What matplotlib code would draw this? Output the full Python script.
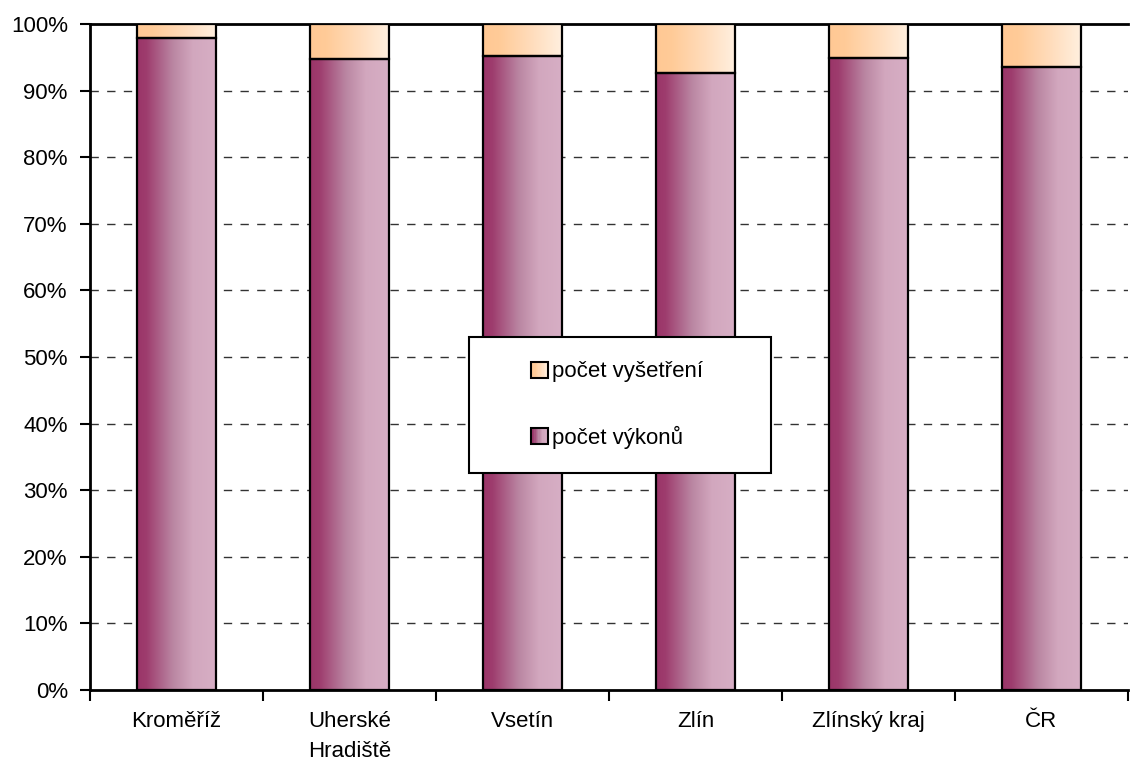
import numpy as np
import matplotlib
matplotlib.use("Agg")
import matplotlib.pyplot as plt
from matplotlib.patches import Rectangle
from matplotlib.colors import LinearSegmentedColormap
from matplotlib.legend_handler import HandlerBase
from matplotlib.ticker import FuncFormatter

categories = ["Kroměříž", "Uherské\nHradiště", "Vsetín", "Zlín", "Zlínský kraj", "ČR"]
vykony = [97.9, 94.7, 95.2, 92.6, 94.9, 93.5]          # počet výkonů (%)
vysetreni = [100 - v for v in vykony]                   # počet vyšetření (%)
series_labels = ["počet vyšetření", "počet výkonů"]

plt.rcParams['font.family'] = ['Liberation Sans Narrow', 'Liberation Sans', 'DejaVu Sans']
FS = 16

purple_cmap = LinearSegmentedColormap.from_list(
    "p", [(0, "#9a3468"), (0.12, "#9e3d6e"), (0.45, "#ba86a2"),
          (0.7, "#d2a7be"), (1, "#d7afc5")])
peach_cmap = LinearSegmentedColormap.from_list(
    "o", [(0, "#ffc894"), (0.2, "#ffcb98"), (0.6, "#ffdcbb"), (1, "#fff0e0")])

fig = plt.figure(figsize=(11.38, 7.69), dpi=100)
ax = fig.add_axes([90/1138, 1-690/769, 1038/1138, 666/769])

x = np.arange(len(categories))
width = 0.46
grad = np.linspace(0, 1, 256).reshape(1, -1)

def grad_bars(bottoms, heights, cmap):
    bars = ax.bar(x, heights, width, bottom=bottoms, facecolor="none",
                  edgecolor="black", linewidth=1.6, zorder=4)
    for b in bars:
        x0, y0 = b.get_x(), b.get_y()
        w, h = b.get_width(), b.get_height()
        im = ax.imshow(grad, cmap=cmap, aspect="auto", interpolation="bilinear",
                       extent=[x0, x0 + w, y0, y0 + h], zorder=3)
        im.set_clip_path(b)
    return bars

grad_bars([0]*len(x), vykony, purple_cmap)
grad_bars(vykony, vysetreni, peach_cmap)

ax.set_xlim(-0.5, len(categories) - 0.5)
ax.set_ylim(0, 100)
ax.set_yticks(np.arange(0, 101, 10))
ax.yaxis.set_major_formatter(FuncFormatter(lambda v, p: f"{int(v)}%"))
ax.set_xticks(x)
ax.set_xticklabels(categories, fontsize=FS, linespacing=1.6)
ax.set_xticks(np.arange(-0.5, len(categories), 1), minor=True)
ax.tick_params(axis="x", which="major", length=0, pad=15)
ax.tick_params(axis="x", which="minor", length=8, width=1.5, direction="out")
ax.tick_params(axis="y", length=7, width=1.5, direction="out", labelsize=FS, pad=9)

for v in range(10, 100, 10):
    ax.axhline(v, color="#333333", linestyle=(0, (6, 6)), linewidth=1, zorder=1)

for s in ["left", "bottom", "top"]:
    ax.spines[s].set_linewidth(2)
    ax.spines[s].set_color("black")
ax.spines["right"].set_visible(False)
ax.set_facecolor("white")


class GradHandler(HandlerBase):
    def __init__(self, cmap):
        super().__init__()
        self.cmap = cmap

    def create_artists(self, legend, orig_handle, xdescent, ydescent,
                       width, height, fontsize, trans):
        s = height * 1.05
        x0 = -xdescent + width - s
        y0 = -ydescent + (height - s) / 2
        arts = []
        n = 12
        for i in range(n):
            r = Rectangle((x0 + s * i / n, y0), s / n + 0.3, s,
                          facecolor=self.cmap((i + 0.5) / n), edgecolor="none",
                          transform=trans)
            arts.append(r)
        arts.append(Rectangle((x0, y0), s, s, facecolor="none", edgecolor="black",
                              linewidth=1.5, transform=trans))
        return arts


h1 = Rectangle((0, 0), 1, 1)
h2 = Rectangle((0, 0), 1, 1)
leg = ax.legend([h1, h2], series_labels,
                handler_map={h1: GradHandler(peach_cmap), h2: GradHandler(purple_cmap)},
                loc="upper left", bbox_to_anchor=(0.365, 0.327, 0.291, 0.203),
                mode="expand",
                fontsize=FS, frameon=True, fancybox=False, edgecolor="black",
                framealpha=1, borderpad=1.1, labelspacing=1.95, handlelength=2.45,
                handletextpad=0.2, borderaxespad=0)
leg.get_frame().set_linewidth(1.5)
leg.set_zorder(10)

fig.savefig("out.png", dpi=100, facecolor="white")
